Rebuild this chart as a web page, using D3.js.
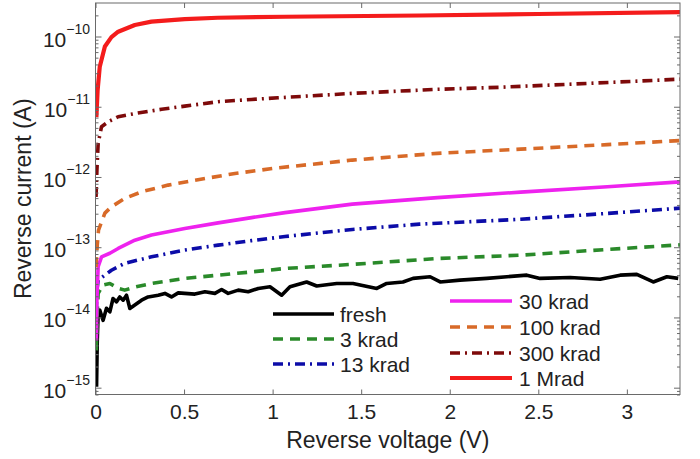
<!DOCTYPE html>
<html>
<head>
<meta charset="utf-8">
<script src="https://cdn.jsdelivr.net/npm/d3@7"></script>
<style>
  body { margin: 0; background: #fff; }
  svg { display: block; }
  text { font-family: "Liberation Sans", Arial, Helvetica, sans-serif; fill: #222; }
</style>
</head>
<body>
<svg id="chart" width="700" height="459"></svg>
<script>
// Reverse I-V curves of a diode after increasing total ionizing dose
const xTicks = [0, 0.5, 1, 1.5, 2, 2.5, 3];
const yTickExponents = [-15, -14, -13, -12, -11, -10];
const seriesNames = ["fresh", "3 krad", "13 krad", "30 krad", "100 krad", "300 krad", "1 Mrad"];

// reverse voltage (V) and reverse current (A), one pair of arrays per dose
const vFresh = [0.006,0.010,0.015,0.024,0.043,0.062,0.081,0.099,0.119,0.137,0.156,0.175,0.194,0.222,0.260,0.297,0.354,0.392,0.429,0.467,0.504,0.561,0.618,0.674,0.712,0.749,0.806,0.862,0.919,0.985,1.051,1.098,1.192,1.249,1.362,1.454,1.588,1.644,1.736,1.793,1.889,1.946,2.058,2.209,2.435,2.510,2.680,2.849,2.962,3.056,3.149,3.226,3.290];
const iFresh = [1.03e-15,4.7e-15,1.15e-14,1.27e-14,9.1e-15,1.35e-14,1.2e-14,1.86e-14,1.67e-14,1.96e-14,1.76e-14,2.07e-14,1.34e-14,1.5e-14,1.76e-14,1.96e-14,2.07e-14,2.2e-14,1.96e-14,2.24e-14,2.2e-14,2.15e-14,2.32e-14,2.2e-14,2.5e-14,2.2e-14,2.45e-14,2.32e-14,2.59e-14,2.73e-14,2.07e-14,2.73e-14,3.2e-14,2.8e-14,3.05e-14,3.05e-14,2.59e-14,3.05e-14,3.2e-14,3.6e-14,3.8e-14,3.2e-14,3.4e-14,3.6e-14,4.0e-14,3.6e-14,3.7e-14,3.5e-14,4.0e-14,4.1e-14,3.2e-14,3.8e-14,3.6e-14];

const v3k = [0.004,0.008,0.015,0.043,0.081,0.128,0.165,0.222,0.316,0.504,0.692,0.881,1.07,1.45,1.93,2.40,2.89,3.30];
const i3k = [3.4e-15,9.1e-15,2.2e-14,2.9e-14,3.05e-14,2.6e-14,2.45e-14,2.7e-14,3.05e-14,3.6e-14,4.0e-14,4.45e-14,4.98e-14,5.7e-14,6.9e-14,7.7e-14,9.3e-14,1.08e-13];

const v13k = [0.004,0.008,0.015,0.053,0.090,0.165,0.316,0.504,0.692,0.881,1.07,1.45,1.83,2.40,2.89,3.30];
const i13k = [1.2e-14,2.45e-14,3.4e-14,4.0e-14,4.7e-14,5.9e-14,7.3e-14,9.1e-14,1.07e-13,1.24e-13,1.42e-13,1.79e-13,2.13e-13,2.5e-13,3.03e-13,3.6e-13];

const v30k = [0.005,0.008,0.015,0.034,0.081,0.128,0.222,0.316,0.504,0.692,0.881,1.07,1.45,1.93,2.40,2.89,3.30];
const i30k = [4.7e-15,1.76e-14,5.3e-14,7.3e-14,8.2e-14,9.6e-14,1.26e-13,1.49e-13,1.85e-13,2.22e-13,2.64e-13,3.11e-13,4.11e-13,5.08e-13,6.09e-13,7.24e-13,8.53e-13];

const v100k = [0.003,0.010,0.017,0.053,0.090,0.165,0.260,0.410,0.561,0.787,1.03,1.45,1.93,2.40,2.89,3.30];
const i100k = [5.2e-14,1.07e-13,1.75e-13,3.06e-13,3.76e-13,4.95e-13,6.15e-13,7.66e-13,9.0e-13,1.12e-12,1.35e-12,1.74e-12,2.17e-12,2.49e-12,2.89e-12,3.3e-12];

const v300k = [0.003,0.008,0.015,0.034,0.071,0.128,0.222,0.373,0.504,0.692,0.881,1.03,1.45,1.93,2.28,2.78,3.30];
const i300k = [5.2e-13,1.25e-12,3.0e-12,5.2e-12,6.1e-12,7.2e-12,8.0e-12,9.2e-12,1.02e-11,1.18e-11,1.27e-11,1.34e-11,1.55e-11,1.77e-11,1.89e-11,2.15e-11,2.47e-11];

const v1M = [0.005,0.012,0.024,0.053,0.090,0.128,0.222,0.316,0.504,0.690,1.07,1.83,2.50,3.30];
const i1M = [7.1e-12,1.73e-11,3.7e-11,7.2e-11,9.8e-11,1.17e-10,1.46e-10,1.63e-10,1.77e-10,1.85e-10,1.91e-10,1.99e-10,2.09e-10,2.23e-10];

const seriesV = [vFresh, v3k, v13k, v30k, v100k, v300k, v1M];
const seriesI = [iFresh, i3k, i13k, i30k, i100k, i300k, i1M];

// line styles per dose
const styles = [
  { color: "#000000", dash: null,        width: 3.6 },
  { color: "#2a8a2a", dash: "10,7",      width: 3.6 },
  { color: "#0c0ca8", dash: "10,5,2,5",  width: 3.6 },
  { color: "#ee22ee", dash: null,        width: 3.6 },
  { color: "#d86a28", dash: "10,7",      width: 3.6 },
  { color: "#7e0a0a", dash: "10,5,2,5",  width: 3.6 },
  { color: "#f41c1c", dash: null,        width: 4.2 }
];

const margin = { left: 95.5, right: 680, top: 3, bottom: 394.5 };
const svg = d3.select("#chart");

const x = d3.scaleLinear().domain([0, 3.3]).range([margin.left, margin.right]);
const y = d3.scaleLog().domain([Math.pow(10, -15.097), Math.pow(10, -9.523)]).range([margin.bottom, margin.top]);

svg.append("defs").append("clipPath").attr("id", "plotClip")
  .append("rect")
  .attr("x", margin.left).attr("y", margin.top)
  .attr("width", margin.right - margin.left).attr("height", margin.bottom - margin.top);

// curves
const line = d3.line().x(d => x(d[0])).y(d => y(d[1]));
const curves = svg.append("g").attr("clip-path", "url(#plotClip)");
seriesV.forEach((vs, k) => {
  const pts = vs.map((v, j) => [v, seriesI[k][j]]);
  curves.append("path")
    .datum(pts)
    .attr("d", line)
    .attr("fill", "none")
    .attr("stroke", styles[k].color)
    .attr("stroke-width", styles[k].width)
    .attr("stroke-dasharray", styles[k].dash)
    .attr("stroke-linejoin", "round");
});

// frame
const axisColor = "#6a6a6a";
svg.append("rect")
  .attr("x", margin.left).attr("y", margin.top)
  .attr("width", margin.right - margin.left).attr("height", margin.bottom - margin.top)
  .attr("fill", "none").attr("stroke", axisColor).attr("stroke-width", 1);

// x axis (bottom labels, inward ticks on both edges)
const xAxisBottom = d3.axisBottom(x).tickValues(xTicks).tickSize(-5).tickFormat(d3.format("~g"));
const gxb = svg.append("g").attr("transform", `translate(0,${margin.bottom})`).call(xAxisBottom);
gxb.select(".domain").remove();
gxb.selectAll(".tick line").attr("stroke", axisColor);
gxb.selectAll(".tick text").attr("font-size", 21).attr("fill", "#222").attr("dy", "1.0em")
  .style("font-family", '"Liberation Sans", Arial, sans-serif');

const xAxisTop = d3.axisTop(x).tickValues(xTicks).tickSize(-5).tickFormat("");
const gxt = svg.append("g").attr("transform", `translate(0,${margin.top})`).call(xAxisTop);
gxt.select(".domain").remove();
gxt.selectAll(".tick line").attr("stroke", axisColor);

// y axis: major and minor log ticks on both edges
const minorVals = [];
for (let e = -16; e <= -10; e++) {
  for (let m = 2; m <= 9; m++) {
    const val = m * Math.pow(10, e);
    if (val >= y.domain()[0] && val <= y.domain()[1]) minorVals.push(val);
  }
}
const majorVals = yTickExponents.map(e => Math.pow(10, e));

function yTicks(axisFn, xpos) {
  const gMaj = svg.append("g").attr("transform", `translate(${xpos},0)`)
    .call(axisFn(y).tickValues(majorVals).tickSize(-6).tickFormat(""));
  gMaj.select(".domain").remove();
  gMaj.selectAll(".tick line").attr("stroke", axisColor);
  const gMin = svg.append("g").attr("transform", `translate(${xpos},0)`)
    .call(axisFn(y).tickValues(minorVals).tickSize(-3).tickFormat(""));
  gMin.select(".domain").remove();
  gMin.selectAll(".tick line").attr("stroke", axisColor);
}
yTicks(d3.axisLeft, margin.left);
yTicks(d3.axisRight, margin.right);

// y tick labels as 10^n
const yLab = svg.append("g");
yTickExponents.forEach(e => {
  const t = yLab.append("text")
    .attr("x", 90).attr("y", y(Math.pow(10, e)) + 10)
    .attr("text-anchor", "end")
    .attr("font-size", 21);
  t.append("tspan").text("10");
  t.append("tspan").attr("dy", -13).attr("font-size", 14).text("\u2212" + Math.abs(e));
});

// axis titles
svg.append("text")
  .attr("x", (margin.left + margin.right) / 2).attr("y", 448)
  .attr("text-anchor", "middle").attr("font-size", 23)
  .text("Reverse voltage (V)");

svg.append("text")
  .attr("transform", `translate(31,${(margin.top + margin.bottom) / 2}) rotate(-90)`)
  .attr("text-anchor", "middle").attr("font-size", 23)
  .text("Reverse current (A)");

// legend, two columns
const legendPos = [
  { x1: 273, x2: 334, tx: 340, y: 314 },
  { x1: 273, x2: 334, tx: 340, y: 339 },
  { x1: 273, x2: 334, tx: 340, y: 364 },
  { x1: 450, x2: 512, tx: 519, y: 301 },
  { x1: 450, x2: 512, tx: 519, y: 327 },
  { x1: 450, x2: 512, tx: 519, y: 353 },
  { x1: 450, x2: 512, tx: 519, y: 378 }
];
const legend = svg.append("g");
seriesNames.forEach((name, k) => {
  const p = legendPos[k];
  legend.append("line")
    .attr("x1", p.x1).attr("x2", p.x2).attr("y1", p.y).attr("y2", p.y)
    .attr("stroke", styles[k].color)
    .attr("stroke-width", styles[k].width)
    .attr("stroke-dasharray", styles[k].dash);
  legend.append("text")
    .attr("x", p.tx).attr("y", p.y).attr("dy", "0.36em")
    .attr("font-size", 21)
    .text(name);
});
</script>
</body>
</html>
